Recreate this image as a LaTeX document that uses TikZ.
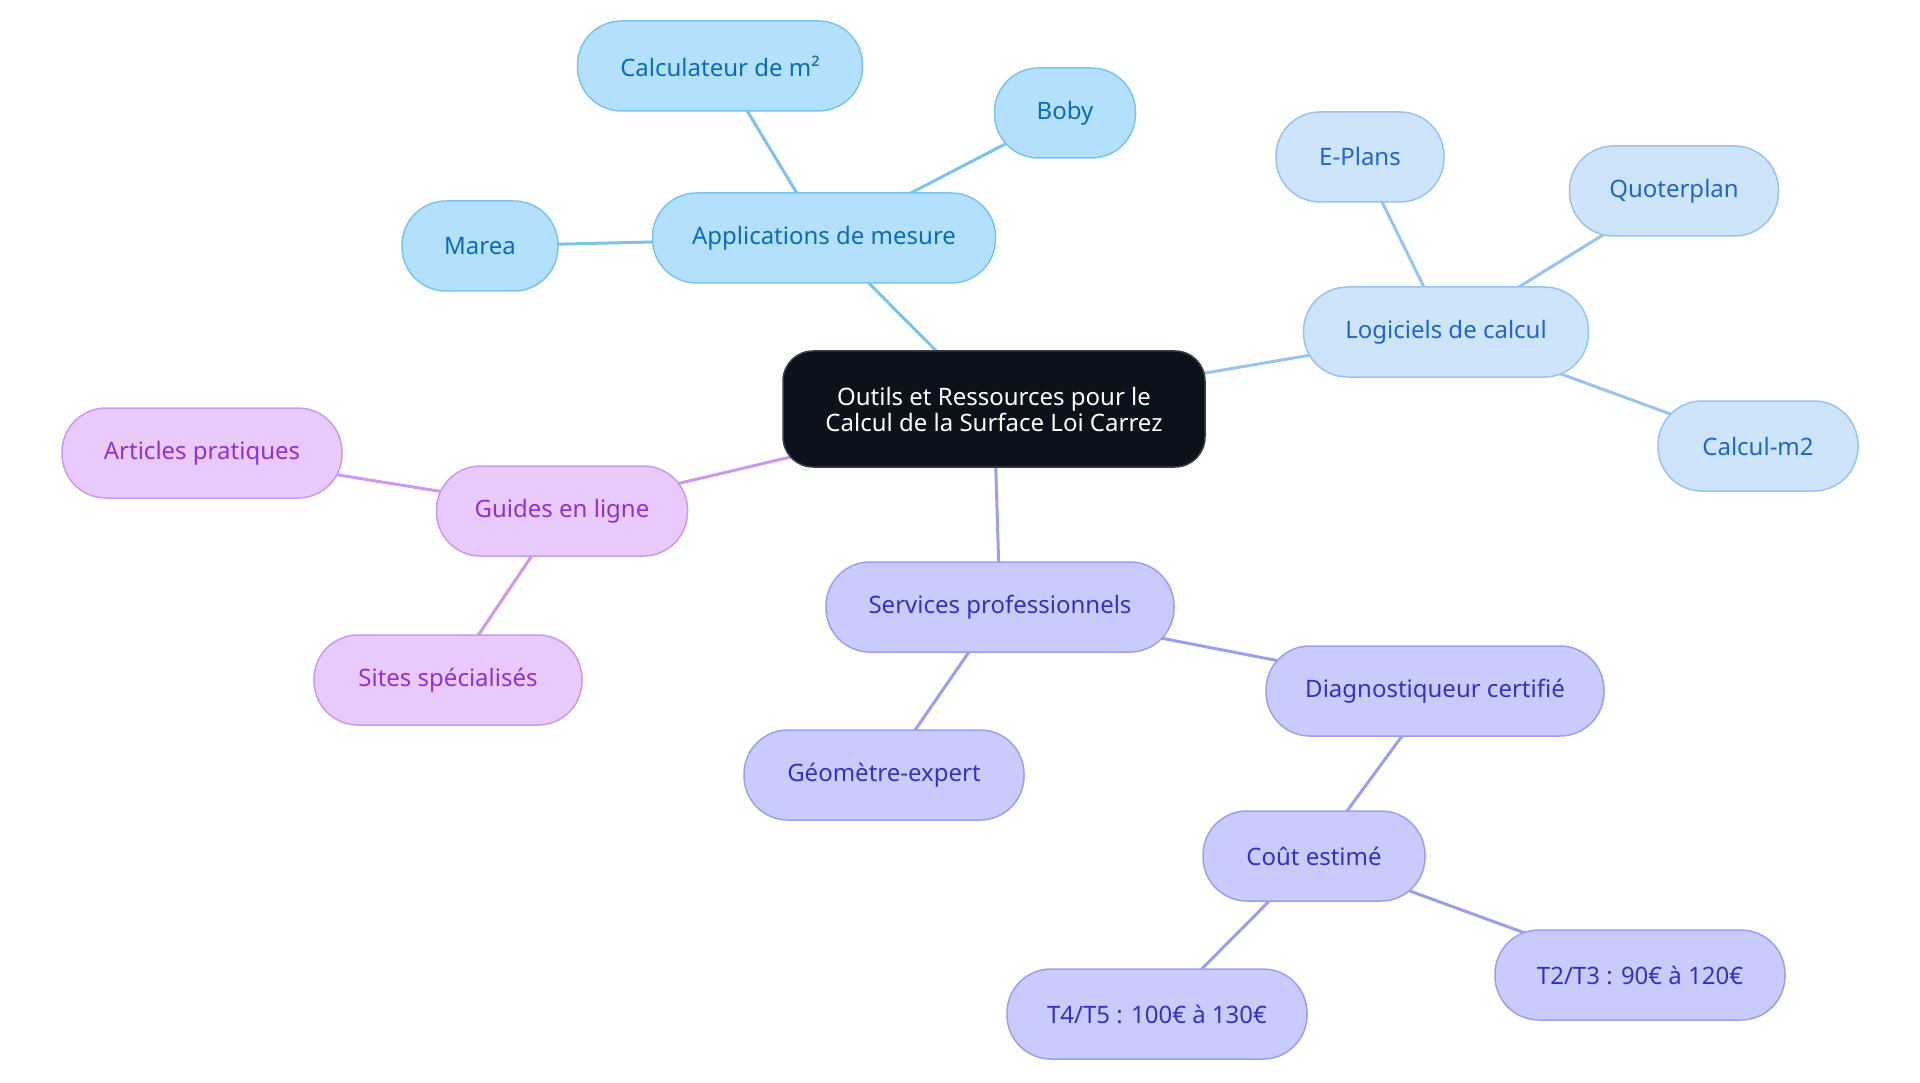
\documentclass[tikz,border=0pt]{standalone}
\usepackage{fontspec}
\setmainfont{Noto Sans}
\usepackage{tikz}
\usetikzlibrary{shapes}
\usetikzlibrary{backgrounds}
\definecolor{rootfill}{HTML}{0B121C}
\definecolor{rootline}{HTML}{3A3F46}
\definecolor{appfill}{HTML}{B3E0FD}
\definecolor{appline}{HTML}{7CC3F0}
\definecolor{apptext}{HTML}{0B6BBE}
\definecolor{logfill}{HTML}{CDE4FB}
\definecolor{logline}{HTML}{98C4F0}
\definecolor{logtext}{HTML}{1F66CC}
\definecolor{guifill}{HTML}{E8CAFD}
\definecolor{guiline}{HTML}{CE97F0}
\definecolor{guitext}{HTML}{9230D6}
\definecolor{serfill}{HTML}{C9CBFD}
\definecolor{serline}{HTML}{9C9EF0}
\definecolor{sertext}{HTML}{3531C6}
\tikzset{
  leaf/.style={draw, line width=1.5pt, rounded corners=44pt, minimum height=90pt,
    inner xsep=0pt, font=\fontsize{24}{28}\selectfont},
  appnode/.style={leaf, fill=appfill, draw=appline, text=apptext},
  lognode/.style={leaf, fill=logfill, draw=logline, text=logtext},
  guinode/.style={leaf, fill=guifill, draw=guiline, text=guitext},
  sernode/.style={leaf, fill=serfill, draw=serline, text=sertext},
  rootnode/.style={draw=rootline, line width=1.5pt, fill=rootfill, text=white,
    rounded corners=30pt, minimum width=422pt, minimum height=116pt,
    align=center, font=\fontsize{24}{26}\selectfont},
  link/.style={line width=3pt}
}
\begin{document}
\begin{tikzpicture}[x=1pt, y=-1pt]
      \useasboundingbox (0,0) rectangle (1920,1083);
      % centre
      \node[rootnode] (root) at (994,409) {Outils et Ressources pour le\\Calcul de la Surface Loi Carrez};
      % applications
      \node[appnode, minimum width=343pt] (app) at (824,238) {Applications de mesure};
      \node[appnode, minimum width=285pt] (calc) at (720,66) {Calculateur de m²};
      \node[appnode, minimum width=141pt] (boby) at (1065,113) {Boby};
      \node[appnode, minimum width=156pt] (marea) at (480,246) {Marea};
      % logiciels
      \node[lognode, minimum width=285pt] (logi) at (1446,332) {Logiciels de calcul};
      \node[lognode, minimum width=168pt] (eplans) at (1360,157) {E-Plans};
      \node[lognode, minimum width=209pt] (quoter) at (1674,191) {Quoterplan};
      \node[lognode, minimum width=200pt] (calcm) at (1758,446) {Calcul-m2};
      % guides
      \node[guinode, minimum width=251pt] (guides) at (562,511) {Guides en ligne};
      \node[guinode, minimum width=280pt] (articles) at (202,453) {Articles pratiques};
      \node[guinode, minimum width=268pt] (sites) at (448,680) {Sites spécialisés};
      % services
      \node[sernode, minimum width=348pt] (serv) at (1000,607) {Services professionnels};
      \node[sernode, minimum width=280pt] (geo) at (884,775) {Géomètre-expert};
      \node[sernode, minimum width=338pt] (diag) at (1435,691) {Diagnostiqueur certifié};
      \node[sernode, minimum width=222pt] (cout) at (1314,856) {Coût estimé};
      \node[sernode, minimum width=300pt] (tqc) at (1157,1014) {T4/T5 : 100€ à 130€};
      \node[sernode, minimum width=290pt] (tdt) at (1640,975) {T2/T3 : 90€ à 120€};
      % links, behind the boxes
      \begin{scope}[on background layer]
      \draw[link, appline] (root.center) -- (app.center);
      \draw[link, appline] (app.center) -- (calc.center);
      \draw[link, appline] (app.center) -- (boby.center);
      \draw[link, appline] (app.center) -- (marea.center);
      \draw[link, logline] (root.center) -- (logi.center);
      \draw[link, logline] (logi.center) -- (eplans.center);
      \draw[link, logline] (logi.center) -- (quoter.center);
      \draw[link, logline] (logi.center) -- (calcm.center);
      \draw[link, guiline] (root.center) -- (guides.center);
      \draw[link, guiline] (guides.center) -- (articles.center);
      \draw[link, guiline] (guides.center) -- (sites.center);
      \draw[link, serline] (root.center) -- (serv.center);
      \draw[link, serline] (serv.center) -- (geo.center);
      \draw[link, serline] (serv.center) -- (diag.center);
      \draw[link, serline] (diag.center) -- (cout.center);
      \draw[link, serline] (cout.center) -- (tqc.center);
      \draw[link, serline] (cout.center) -- (tdt.center);
      \end{scope}
    \end{tikzpicture}
\end{document}
